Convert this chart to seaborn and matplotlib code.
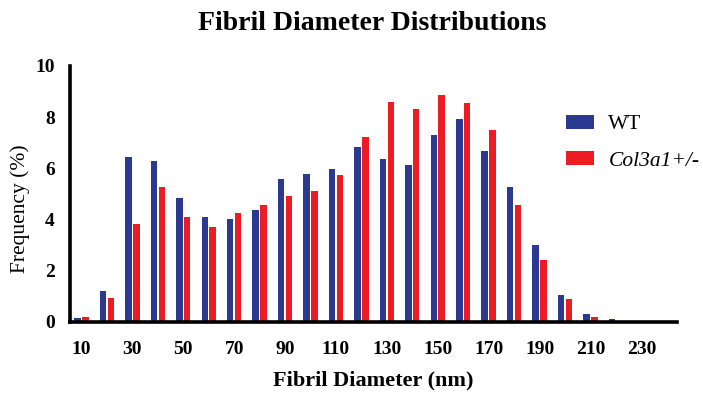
import numpy as np
import pandas as pd
import matplotlib
matplotlib.use("Agg")
import matplotlib.pyplot as plt
import seaborn as sns
from matplotlib.patches import Patch

diameters = [10, 20, 30, 40, 50, 60, 70, 80, 90, 100, 110, 120, 130, 140, 150,
             160, 170, 180, 190, 200, 210, 220, 230]
wt = [0.17, 1.21, 6.43, 6.29, 4.83, 4.10, 4.04, 4.36, 5.59, 5.79, 5.96, 6.82,
      6.36, 6.13, 7.29, 7.94, 6.68, 5.26, 3.02, 1.05, 0.30, 0.10, 0.0]
col3a1 = [0.20, 0.92, 3.81, 5.29, 4.11, 3.70, 4.25, 4.57, 4.92, 5.11, 5.76, 7.23,
          8.61, 8.32, 8.87, 8.54, 7.51, 4.58, 2.41, 0.90, 0.20, 0.0, 0.0]
groups = ["WT", "Col3a1+/-"]
tick_labels = ["10", "30", "50", "70", "90", "110", "130", "150", "170", "190", "210", "230"]

df = pd.DataFrame({
    "Diameter": [str(d) for d in diameters] * 2,
    "Frequency": wt + col3a1,
    "Group": [groups[0]] * len(diameters) + [groups[1]] * len(diameters),
})

sns.set_style("white")
plt.rcParams["font.family"] = ["Liberation Serif", "DejaVu Serif"]
plt.rcParams["text.color"] = "black"
plt.rcParams["axes.labelcolor"] = "black"
plt.rcParams["xtick.color"] = "black"
plt.rcParams["ytick.color"] = "black"

fig = plt.figure(figsize=(7.03, 3.95), dpi=100)
ax = fig.add_axes([70 / 703, 1 - 322 / 395, 607 / 703, 256 / 395])

palette = {"WT": "#2B3990", "Col3a1+/-": "#ED1C24"}
sns.barplot(data=df, x="Diameter", y="Frequency", hue="Group",
            order=[str(d) for d in diameters], hue_order=groups,
            palette=palette, width=0.62, gap=0.18, saturation=1,
            linewidth=0, ax=ax, legend=False)

ax.set_xlim(-0.45, 23.4)
ax.set_ylim(0, 10)
ax.set_yticks([0, 2, 4, 6, 8, 10])
ax.set_xticks(list(range(0, 23, 2)))
ax.set_xticklabels(tick_labels)

for s in ["top", "right"]:
    ax.spines[s].set_visible(False)
for s in ["left", "bottom"]:
    ax.spines[s].set_linewidth(2.6)
    ax.spines[s].set_color("black")

ax.tick_params(axis="both", which="major", direction="out", length=6, width=2.6,
               color="black", labelsize=14, pad=5)
ax.tick_params(axis="x", pad=8)
for lab in ax.get_xticklabels() + ax.get_yticklabels():
    lab.set_fontweight("bold")

ax.set_xlabel("Fibril Diameter (nm)", fontsize=16, fontweight="bold", va="center")
ax.xaxis.set_label_coords(0.5, -(380 - 322) / 256)
ax.set_ylabel("Frequency (%)", fontsize=15.5, fontweight="normal", va="center")
ax.yaxis.set_label_coords(-(70 - 20) / 607, (322 - 209) / 256)

fig.text(372 / 703, 1 - 23 / 395, "Fibril Diameter Distributions", ha="center",
         va="center", fontsize=20, fontweight="bold")

handles = [Patch(facecolor=palette[g], edgecolor="none") for g in groups]
leg = fig.legend(handles, groups, loc="upper left",
                 bbox_to_anchor=(549 / 703, 1 - 98 / 395), frameon=False,
                 fontsize=15.5, handlelength=1.31, handleheight=0.63,
                 labelspacing=0.78, handletextpad=0.68, borderpad=0.27)
leg.get_texts()[1].set_fontstyle("italic")

fig.savefig("out.png", dpi=100)
